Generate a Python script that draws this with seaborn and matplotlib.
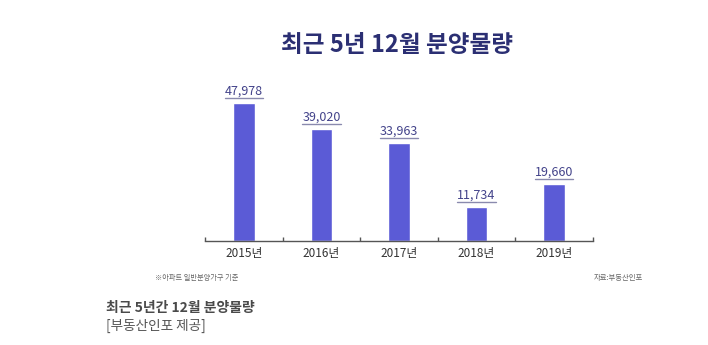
import matplotlib
matplotlib.use("Agg")
import matplotlib.pyplot as plt
from matplotlib.lines import Line2D
import seaborn as sns
import pandas as pd

years = ["2015년", "2016년", "2017년", "2018년", "2019년"]
supply = [47978, 39020, 33963, 11734, 19660]
value_labels = ["47,978", "39,020", "33,963", "11,734", "19,660"]

title = "최근 5년 12월 분양물량"
note_left = "※아파트 일반분양가구 기준"
note_right = "자료:부동산인포"
caption = "최근 5년간 12월 분양물량"
credit = "[부동산인포 제공]"

sns.set_theme(style="white")
plt.rcParams["font.family"] = ["Noto Sans CJK KR", "DejaVu Sans"]

W, H = 708, 345
fig = plt.figure(figsize=(W / 100, H / 100), dpi=100)
fig.patch.set_facecolor("white")

# axes: baseline at y=241 px, spans x 205..593 px, top at y=80 px
left, right, base, top = 205, 593, 241, 80
ax = fig.add_axes([left / W, (H - base) / H, (right - left) / W, (base - top) / H])
ax.set_facecolor("white")

df = pd.DataFrame({"year": years, "supply": supply})
bar_color = "#5b5bd6"
sns.barplot(data=df, x="year", y="supply", color=bar_color, width=0.28,
            saturation=1, ax=ax)

ymax = supply[0] * (base - top) / (base - 103)
ax.set_ylim(0, ymax)
ax.set_xlim(-0.5, len(years) - 0.5)

for s in ["top", "right", "left"]:
    ax.spines[s].set_visible(False)
ax.spines["bottom"].set_color("#555555")
ax.spines["bottom"].set_linewidth(1.0)
ax.set_yticks([])
ax.set_xlabel("")
ax.set_ylabel("")

ax.set_xticks([i - 0.5 for i in range(len(years) + 1)], minor=True)
ax.set_xticks(range(len(years)))
ax.set_xticklabels(years, fontsize=8.5, color="#333333")
ax.tick_params(axis="x", which="major", length=0, pad=4)
ax.tick_params(axis="x", which="minor", direction="in", length=3,
               width=1.0, color="#555555", bottom=True)

label_color = "#43438a"
texts = []
for i, (v, lab) in enumerate(zip(supply, value_labels)):
    t = ax.annotate(lab, xy=(i, v), xytext=(0, 4), textcoords="offset points",
                    ha="center", va="bottom", fontsize=9, color=label_color)
    texts.append((t, v, i))

# underline each value label just above its bar
fig.canvas.draw()
renderer = fig.canvas.get_renderer()
inv = fig.transFigure.inverted()
for t, v, i in texts:
    bb = t.get_window_extent(renderer)
    bar_top = ax.transData.transform((i, v))[1]
    y = bar_top + 5
    (x0, y0) = inv.transform((bb.x0, y))
    (x1, _) = inv.transform((bb.x1, y))
    fig.add_artist(Line2D([x0, x1], [y0, y0], color="#8a8aae", lw=1.0,
                          transform=fig.transFigure))

fig.text(397 / W, 1 - 45 / H, title, ha="center", va="center",
         fontsize=17, fontweight="bold", color="#2b2f73")

fig.text(155 / W, 1 - 278 / H, note_left, ha="left", va="center",
         fontsize=5.2, color="#666666")
fig.text(643 / W, 1 - 278 / H, note_right, ha="right", va="center",
         fontsize=5.3, color="#666666")

fig.text(106 / W, 1 - 308 / H, caption, ha="left", va="center",
         fontsize=10, fontweight="bold", color="#4a4a4a")
fig.text(106 / W, 1 - 326 / H, credit, ha="left", va="center",
         fontsize=9.8, color="#555555")

fig.savefig("out.png", dpi=100, facecolor="white")
